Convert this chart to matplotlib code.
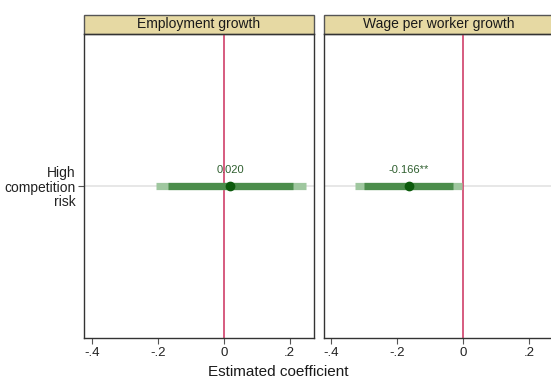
import matplotlib.pyplot as plt
from matplotlib.patches import Rectangle

plt.rcParams['font.family'] = ['Liberation Sans', 'DejaVu Sans']

panels = ['Employment growth', 'Wage per worker growth']
row_label = 'High\ncompetition\nrisk'
coef = [0.020, -0.166]
stars = ['', '**']
ci90_lo = [-0.169, -0.300]
ci90_hi = [0.211, -0.031]
ci95_lo = [-0.206, -0.328]
ci95_hi = [0.248, -0.005]
xticks = [-0.4, -0.2, 0, 0.2]
xticklabels = ['-.4', '-.2', '0', '.2']

W, H = 551, 385
fig = plt.figure(figsize=(W / 100, H / 100), dpi=100)

left_px = [84.3, 324.0]
top_px, bot_px = 34.0, 337.6
width_px = 229.5
hdr_px = 19.2

for i, name in enumerate(panels):
    ax = fig.add_axes([left_px[i] / W, 1 - bot_px / H, width_px / W, (bot_px - top_px) / H])
    ax.set_xlim(-0.4227, 0.273)
    ax.set_ylim(0, 2)

    ax.axhline(1, color='#e3e3e3', lw=1.2, zorder=1)
    ax.axvline(0, color='#d0406a', lw=1.2, zorder=2)

    ax.plot([ci95_lo[i], ci95_hi[i]], [1, 1], color='#9fc79f', lw=5.2,
            solid_capstyle='butt', zorder=3)
    ax.plot([ci90_lo[i], ci90_hi[i]], [1, 1], color='#4b8d4b', lw=5.2,
            solid_capstyle='butt', zorder=4)
    ax.plot(coef[i], 1, 'o', color='#0b5a0b', ms=6, zorder=5)
    ax.annotate(f'{coef[i]:.3f}{stars[i]}', (coef[i], 1), xytext=(0, 8),
                textcoords='offset points', ha='center', va='bottom',
                fontsize=8, color='#2f5f2f', zorder=6)

    ax.set_xticks(xticks)
    ax.set_xticklabels(xticklabels, fontsize=9.5, color='#222222')
    ax.tick_params(axis='x', length=4, width=0.8, color='#555555', pad=3)
    if i == 0:
        ax.set_yticks([1])
        ax.set_yticklabels([row_label], fontsize=10, linespacing=1.05,
                           color='#222222')
        ax.tick_params(axis='y', length=4, width=0.8, color='#555555', pad=2)
    else:
        ax.set_yticks([])

    for s in ax.spines.values():
        s.set_color('#333333')
        s.set_linewidth(1.0)

    # panel header strip
    h = hdr_px / (bot_px - top_px)
    ax.add_patch(Rectangle((0, 1), 1, h, transform=ax.transAxes, clip_on=False,
                           facecolor='#e6d9a3', edgecolor='#555555', lw=1.0))
    ax.text(0.5, 1 + h / 2, name, transform=ax.transAxes, ha='center',
            va='center', fontsize=10, color='#1a1a1a')

fig.text(0.505, 0.015, 'Estimated coefficient', ha='center', va='bottom',
         fontsize=11, color='#1a1a1a')

fig.savefig('out.png', dpi=100)
